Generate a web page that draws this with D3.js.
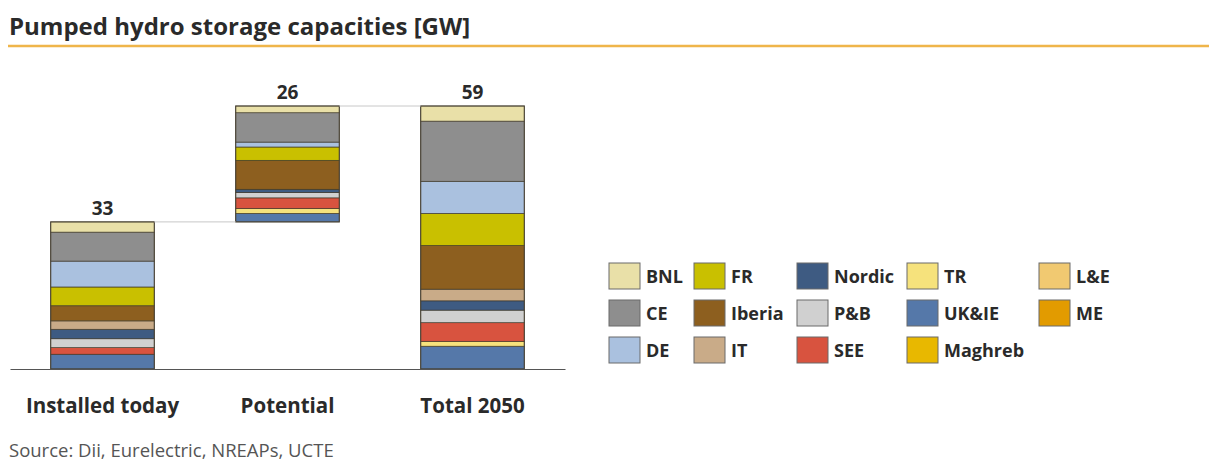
<!DOCTYPE html>
<html>
<head>
<meta charset="utf-8">
<script src="https://cdn.jsdelivr.net/npm/d3@7/dist/d3.min.js"></script>
<style>
  html, body { margin: 0; padding: 0; background: #fff; }
  svg { display: block; font-family: "Open Sans", Lato, sans-serif; }
</style>
</head>
<body>
<svg id="chart" width="1209" height="465"></svg>
<script>
// Bars (categories) and regions, listed top of stack first
const categories = ["Installed today", "Potential", "Total 2050"];
const regions = ["BNL", "CE", "DE", "FR", "Iberia", "IT", "Nordic", "P&B", "SEE", "TR", "UK&IE", "Maghreb", "L&E", "ME"];

// GW per region for each bar
const installedToday = [2.3, 6.5, 5.8, 4.2, 3.4, 1.9, 2.1, 2.0, 1.5, 0.0, 3.3, 0.0, 0.0, 0.0];
const potential      = [1.5, 6.6, 1.1, 3.0, 6.5, 0.0, 0.7, 1.2, 2.4, 1.1, 1.9, 0.0, 0.0, 0.0];
const total2050      = [3.4, 13.5, 7.2, 7.2, 9.8, 2.6, 2.1, 2.8, 4.2, 1.1, 5.1, 0.0, 0.0, 0.0];

// Labelled totals above the bars
const totals = [33, 26, 59];

const regionColors = ["#e9e0a8", "#8e8e8e", "#aac1df", "#c9c000", "#8d5f1f", "#c9ab88", "#3e5b82",
                      "#d0d0d0", "#d8533f", "#f6e27c", "#5578a9", "#e8b800", "#f1c971", "#e29b00"];

const series = [installedToday, potential, total2050];

const svg = d3.select("#chart");

// Title and rule
svg.append("text")
  .attr("x", 9).attr("y", 35)
  .attr("font-size", 24).attr("font-weight", 700).attr("fill", "#2a2a2a")
  .text("Pumped hydro storage capacities [GW]");
svg.append("line")
  .attr("x1", 8).attr("x2", 1209).attr("y1", 46).attr("y2", 46)
  .attr("stroke", "#efb54a").attr("stroke-width", 2.5);

const x = d3.scaleBand().domain(categories).range([10, 565]).paddingInner(0.44).paddingOuter(0.22);
const y = d3.scaleLinear().domain([0, 59]).range([369, 106]);

// The middle bar floats on top of the installed one (waterfall)
const baseOffset = [0, totals[0], 0];

const color = d3.scaleOrdinal().domain(regions).range(regionColors);

const g = svg.append("g");

categories.forEach((cat, i) => {
  const vals = series[i];
  // stack from the bottom: last region first
  let acc = baseOffset[i];
  const segs = [];
  for (let k = regions.length - 1; k >= 0; k--) {
    const v = vals[k];
    if (v > 0) segs.push({ region: regions[k], y0: acc, y1: acc + v });
    acc += v;
  }
  g.selectAll(null).data(segs).enter().append("rect")
    .attr("x", x(cat))
    .attr("width", x.bandwidth())
    .attr("y", d => y(d.y1))
    .attr("height", d => y(d.y0) - y(d.y1))
    .attr("fill", d => color(d.region))
    .attr("stroke", "#3a3324").attr("stroke-width", 0.8).attr("stroke-opacity", 0.8);
  // outline
  g.append("rect")
    .attr("x", x(cat)).attr("width", x.bandwidth())
    .attr("y", y(baseOffset[i] + totals[i]))
    .attr("height", y(baseOffset[i]) - y(baseOffset[i] + totals[i]))
    .attr("fill", "none").attr("stroke", "#4a4436").attr("stroke-width", 1);
  // total label
  svg.append("text")
    .attr("x", x(cat) + x.bandwidth() / 2)
    .attr("y", y(baseOffset[i] + totals[i]) - 7)
    .attr("text-anchor", "middle")
    .attr("font-size", 19).attr("font-weight", 700).attr("fill", "#2a2a2a")
    .text(totals[i]);
});

// connector lines between bar tops
const conn = [
  { from: 0, to: 1, v: totals[0] },
  { from: 1, to: 2, v: totals[0] + totals[1] }
];
svg.selectAll(null).data(conn).enter().append("line")
  .attr("x1", d => x(categories[d.from]) + x.bandwidth())
  .attr("x2", d => x(categories[d.to]))
  .attr("y1", d => y(d.v)).attr("y2", d => y(d.v))
  .attr("stroke", "#c8c8c8").attr("stroke-width", 1);

// baseline axis
const axis = svg.append("g").attr("transform", `translate(0,${y(0)})`)
  .call(d3.axisBottom(x).tickSize(0).tickPadding(29));
axis.select(".domain").attr("stroke", "#555").attr("stroke-width", 1.2);
axis.selectAll("text")
  .attr("font-family", "'Open Sans', Lato, sans-serif")
  .attr("font-size", 20.5).attr("font-weight", 700).attr("fill", "#2a2a2a");

// legend: 5 columns x 3 rows, column-major
const legendCols = [609, 694, 797, 907, 1039];
const legendRows = [263, 300, 337];
const leg = svg.append("g");
regions.forEach((r, i) => {
  const c = Math.floor(i / 3), rr = i % 3;
  const gx = legendCols[c], gy = legendRows[rr];
  leg.append("rect")
    .attr("x", gx).attr("y", gy).attr("width", 31).attr("height", 26)
    .attr("fill", color(r)).attr("stroke", "#6a6a6a").attr("stroke-width", 1);
  leg.append("text")
    .attr("x", gx + 37).attr("y", gy + 20)
    .attr("font-size", 18).attr("font-weight", 700).attr("fill", "#2a2a2a")
    .text(r);
});

// source line
svg.append("text")
  .attr("x", 9).attr("y", 457)
  .attr("font-size", 18.5).attr("fill", "#555")
  .text("Source: Dii, Eurelectric, NREAPs, UCTE");
</script>
</body>
</html>
